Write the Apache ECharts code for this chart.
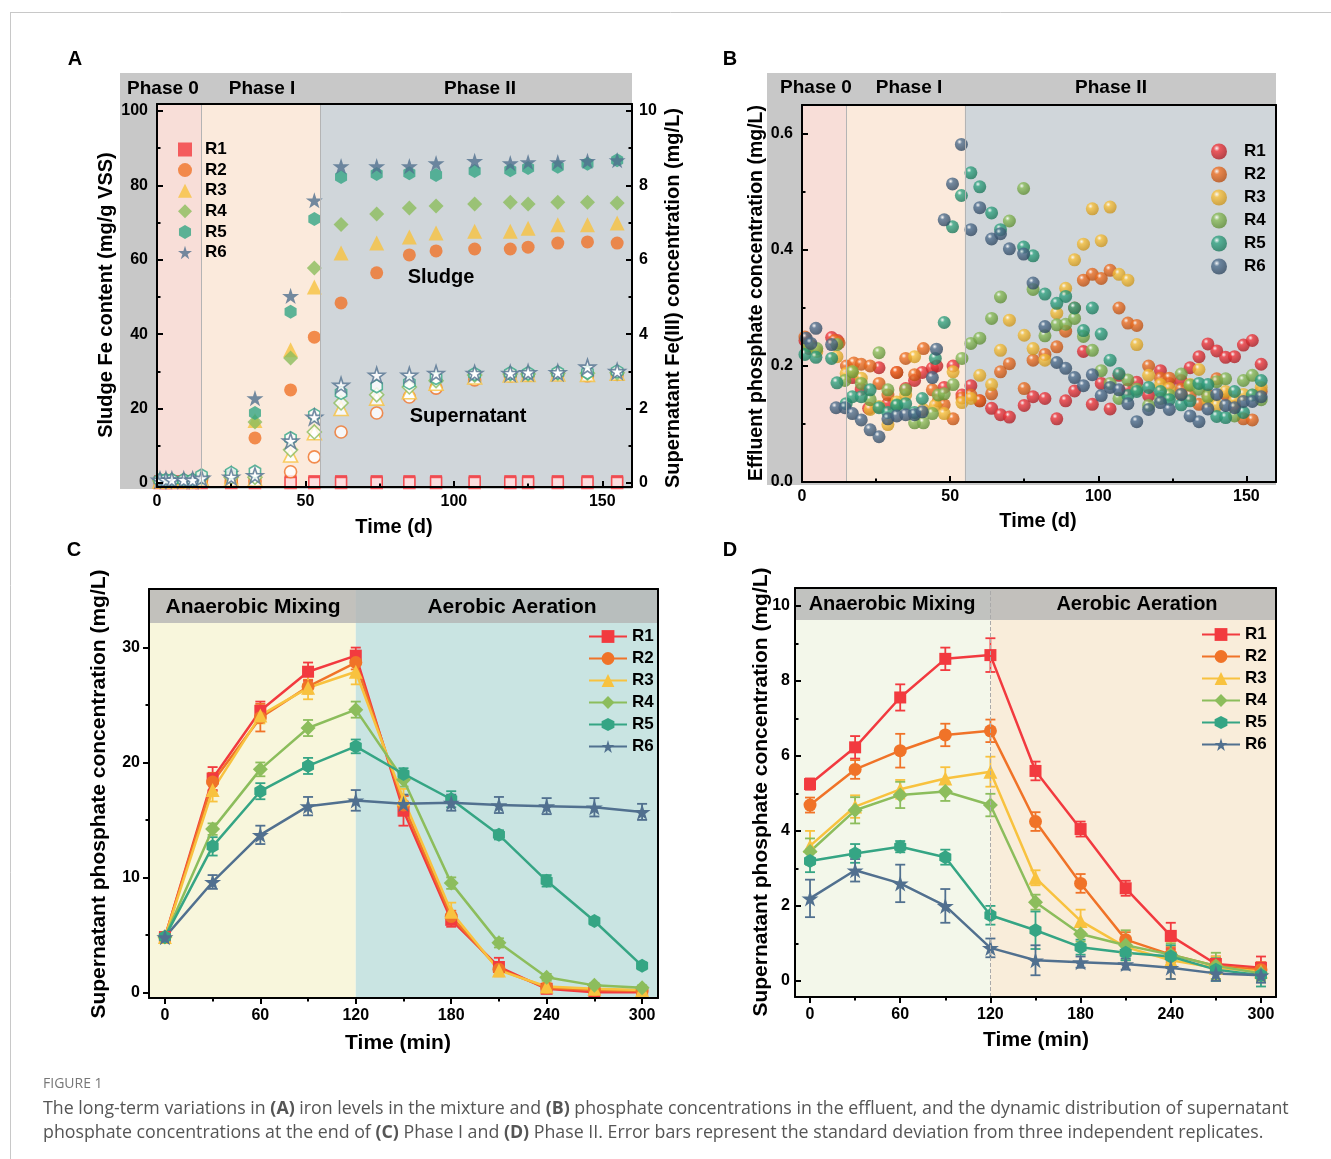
<!DOCTYPE html>
<html>
<head>
<meta charset="utf-8">
<script src="https://cdn.jsdelivr.net/npm/echarts@6/dist/echarts.min.js"></script>
<style>
  html, body { margin: 0; background: #fff; }
  #main { width: 1331px; height: 1159px; }
</style>
</head>
<body>
<div id="main"></div>
<script>
// ---- data ----
var names = ['R1', 'R2', 'R3', 'R4', 'R5', 'R6'];

// A: sludge Fe (mg/g VSS) and supernatant Fe(III) (mg/L) over time (d)
var dayA = [1, 3, 5, 9, 12, 15, 25, 33, 45, 53, 62, 74, 85, 94, 107, 119, 125, 135, 145, 155];
var sludgeR1 = [0.5, 0.5, 0.5, 0.5, 0.5, 0.5, 0.5, 0.5, 0.5, 0.5, 0.5, 0.5, 0.5, 0.5, 0.5, 0.5, 0.5, 0.5, 0.5, 0.5];
var sludgeR2 = [0.5, 0.5, 0.5, 0.5, 0.5, 0.8, 1.2, 12.1, 25.0, 39.2, 48.4, 56.5, 61.3, 62.4, 62.9, 62.9, 63.4, 64.5, 64.8, 64.5];
var sludgeR3 = [0.5, 0.5, 0.5, 0.5, 0.5, 1.0, 1.8, 16.8, 35.8, 52.7, 61.8, 64.5, 66.1, 67.2, 67.7, 67.7, 68.5, 69.4, 69.4, 69.9];
var sludgeR4 = [0.5, 0.5, 0.5, 0.5, 0.5, 1.1, 2.0, 16.4, 33.6, 57.8, 69.5, 72.3, 73.9, 74.5, 75.0, 75.5, 75.0, 75.5, 75.5, 75.3];
var sludgeR5 = [0.5, 0.5, 0.5, 0.5, 0.5, 1.3, 2.5, 18.8, 46.0, 71.0, 82.3, 83.1, 83.3, 82.8, 83.9, 84.1, 84.7, 85.0, 85.8, 86.8];
var sludgeR6 = [0.5, 0.5, 0.5, 0.5, 0.5, 1.5, 2.8, 22.8, 50.3, 76.0, 85.2, 85.2, 85.2, 86.0, 86.6, 86.0, 86.3, 86.3, 86.6, 86.8];
var supR1 = [0, 0, 0, 0, 0, 0, 0, 0, 0, 0, 0, 0, 0, 0, 0, 0, 0, 0, 0, 0];
var supR2 = [0.05, 0.05, 0.05, 0.05, 0.05, 0.08, 0.05, 0.05, 0.30, 0.70, 1.37, 1.88, 2.31, 2.55, 2.77, 2.88, 2.90, 2.92, 2.88, 2.92];
var supR3 = [0.05, 0.05, 0.05, 0.05, 0.05, 0.10, 0.10, 0.10, 0.75, 1.35, 2.00, 2.28, 2.45, 2.68, 2.85, 2.90, 2.92, 2.93, 2.92, 2.95];
var supR4 = [0.06, 0.06, 0.06, 0.06, 0.06, 0.15, 0.15, 0.15, 0.89, 1.37, 2.15, 2.37, 2.58, 2.75, 2.90, 2.93, 2.93, 2.95, 2.95, 2.96];
var supR5 = [0.08, 0.08, 0.08, 0.08, 0.08, 0.20, 0.27, 0.30, 1.20, 1.83, 2.42, 2.60, 2.69, 2.82, 2.93, 2.95, 2.95, 2.97, 2.97, 3.00];
var supR6 = [0.08, 0.08, 0.08, 0.08, 0.08, 0.13, 0.16, 0.20, 1.13, 1.77, 2.63, 2.90, 2.90, 2.95, 2.95, 2.95, 2.97, 2.97, 3.12, 3.00];

// B: effluent phosphate (mg/L), [day, value]
var effR1 = [[1, 0.244], [2.5, 0.23], [10, 0.249], [12, 0.244], [17, 0.18], [20, 0.16], [22.5, 0.127], [26, 0.197], [29, 0.135], [32, 0.189], [35, 0.161], [38, 0.175], [40.6, 0.189], [44, 0.196], [45.5, 0.2], [48, 0.163], [51, 0.2], [54, 0.15], [57, 0.166], [60, 0.14], [64, 0.127], [67, 0.116], [70, 0.112], [75, 0.132], [78, 0.147], [82, 0.144], [86, 0.109], [89, 0.14], [92, 0.157], [95, 0.225], [98, 0.134], [101, 0.17], [104, 0.126], [107, 0.184], [110, 0.16], [113, 0.172], [117, 0.149], [121, 0.192], [124, 0.17], [128, 0.175], [131, 0.197], [134, 0.216], [137, 0.238], [140, 0.226], [143, 0.215], [146, 0.216], [149, 0.236], [152, 0.244], [155, 0.203]];
var effR2 = [[1, 0.25], [3, 0.235], [11, 0.244], [12.5, 0.24], [15, 0.2], [17.5, 0.205], [20, 0.203], [23, 0.2], [26, 0.17], [29, 0.15], [32, 0.189], [35, 0.213], [38, 0.185], [41, 0.23], [44, 0.159], [46, 0.14], [48, 0.133], [51, 0.109], [54, 0.145], [57, 0.15], [60, 0.14], [64, 0.152], [67, 0.19], [70, 0.204], [75, 0.161], [78, 0.21], [82, 0.22], [86, 0.233], [89, 0.26], [92, 0.3], [95, 0.348], [98, 0.358], [101, 0.351], [104, 0.365], [107, 0.3], [110, 0.274], [113, 0.27], [117, 0.2], [121, 0.179], [124, 0.179], [128, 0.16], [131, 0.149], [134, 0.134], [137, 0.15], [140, 0.178], [143, 0.151], [146, 0.13], [149, 0.109], [152, 0.107], [155, 0.156]];
var effR3 = [[2.5, 0.237], [5, 0.225], [11.8, 0.216], [14.9, 0.187], [17, 0.19], [20, 0.179], [23, 0.125], [26, 0.13], [29, 0.099], [32, 0.138], [35, 0.15], [38, 0.216], [41, 0.125], [45, 0.132], [48, 0.118], [51, 0.19], [54, 0.137], [57, 0.144], [60, 0.184], [64, 0.168], [67, 0.227], [70, 0.279], [75, 0.253], [78, 0.23], [82, 0.21], [86, 0.291], [89, 0.334], [92, 0.383], [95, 0.41], [98, 0.471], [101, 0.416], [104, 0.474], [107, 0.358], [110, 0.348], [113, 0.237], [117, 0.184], [121, 0.168], [124, 0.161], [128, 0.15], [131, 0.168], [134, 0.194], [137, 0.14], [140, 0.132], [143, 0.156], [146, 0.14], [149, 0.151], [152, 0.15], [155, 0.163]];
var effR4 = [[2, 0.235], [5, 0.23], [11.8, 0.237], [14.5, 0.175], [17, 0.19], [20, 0.17], [23, 0.142], [26, 0.223], [29, 0.159], [32, 0.133], [35, 0.159], [38, 0.102], [41, 0.102], [44, 0.118], [46, 0.15], [48, 0.152], [51, 0.168], [54, 0.213], [57, 0.239], [60, 0.248], [64, 0.282], [67, 0.319], [70, 0.45], [74.8, 0.506], [78, 0.332], [82, 0.252], [86, 0.271], [89, 0.272], [92, 0.282], [95, 0.251], [98, 0.227], [101, 0.192], [104, 0.17], [107, 0.144], [110, 0.176], [113, 0.16], [117, 0.132], [121, 0.144], [124, 0.15], [128, 0.186], [131, 0.167], [134, 0.16], [137, 0.147], [140, 0.173], [143, 0.178], [146, 0.114], [149, 0.175], [152, 0.184], [155, 0.142]];
var effR5 = [[1, 0.22], [4.7, 0.215], [10, 0.213], [11.8, 0.171], [14.9, 0.135], [17, 0.147], [20, 0.147], [23, 0.159], [26, 0.128], [29, 0.12], [32, 0.132], [35, 0.135], [38, 0.12], [40.6, 0.144], [45, 0.213], [48, 0.275], [50.8, 0.44], [53.8, 0.494], [57, 0.533], [60, 0.509], [64, 0.464], [67, 0.435], [74.8, 0.405], [78, 0.39], [82, 0.324], [86, 0.308], [89, 0.32], [92, 0.3], [95, 0.261], [98, 0.3], [101, 0.255], [104, 0.21], [107, 0.187], [110, 0.149], [113, 0.156], [117, 0.163], [121, 0.156], [124, 0.142], [128, 0.133], [131, 0.14], [134, 0.17], [137, 0.168], [140, 0.113], [143, 0.111], [146, 0.156], [149, 0.12], [152, 0.15], [155, 0.175]];
var effR6 = [[1.4, 0.248], [3, 0.239], [4.7, 0.265], [10, 0.237], [11.5, 0.128], [14.5, 0.128], [17, 0.118], [20, 0.107], [23, 0.09], [26, 0.078], [29, 0.109], [32, 0.114], [35, 0.116], [38, 0.116], [40.6, 0.121], [44, 0.18], [45.4, 0.229], [48, 0.452], [50.8, 0.514], [53.8, 0.582], [57, 0.435], [60, 0.473], [64, 0.419], [67, 0.428], [70, 0.402], [74.8, 0.393], [78, 0.343], [82, 0.268], [86, 0.206], [89, 0.196], [92, 0.18], [95, 0.166], [98, 0.185], [101, 0.149], [104, 0.163], [107, 0.159], [110, 0.135], [113, 0.104], [117, 0.125], [121, 0.137], [124, 0.125], [128, 0.151], [131, 0.114], [134, 0.104], [137, 0.126], [140, 0.151], [143, 0.132], [146, 0.128], [149, 0.139], [152, 0.139], [155, 0.147]];

// C, D: supernatant phosphate (mg/L) in one cycle, mean and sd
var timeMin = [0, 30, 60, 90, 120, 150, 180, 210, 240, 270, 300];
var cR1 = [4.8, 18.6, 24.5, 27.9, 29.3, 15.8, 6.3, 2.2, 0.3, 0.0, 0.0];
var cR2 = [4.8, 18.3, 23.9, 26.6, 28.7, 16.3, 6.6, 2.0, 0.4, 0.2, 0.1];
var cR3 = [4.8, 17.6, 24.1, 26.5, 27.9, 16.8, 7.0, 1.9, 0.5, 0.3, 0.2];
var cR4 = [4.8, 14.2, 19.4, 23.0, 24.6, 18.5, 9.5, 4.3, 1.3, 0.6, 0.4];
var cR5 = [4.8, 12.7, 17.5, 19.7, 21.4, 19.0, 16.8, 13.7, 9.7, 6.2, 2.3];
var cR6 = [4.8, 9.6, 13.7, 16.2, 16.7, 16.4, 16.5, 16.3, 16.2, 16.1, 15.7];
var cErrR1 = [0.3, 1.0, 0.8, 0.8, 0.7, 1.3, 0.6, 0.8, 0.3, 0.2, 0.2];
var cErrR2 = [0.3, 0.8, 1.2, 0.6, 0.6, 0.8, 0.5, 0.5, 0.3, 0.2, 0.1];
var cErrR3 = [0.3, 1.0, 0.7, 1.0, 1.1, 0.9, 0.8, 0.5, 0.3, 0.2, 0.2];
var cErrR4 = [0.2, 0.5, 0.6, 0.7, 0.7, 0.6, 0.5, 0.4, 0.3, 0.2, 0.2];
var cErrR5 = [0.2, 0.8, 0.7, 0.7, 0.6, 0.5, 0.7, 0.4, 0.5, 0.3, 0.3];
var cErrR6 = [0.2, 0.6, 0.8, 0.8, 0.9, 0.8, 0.7, 0.7, 0.7, 0.8, 0.7];

var dR1 = [5.25, 6.23, 7.56, 8.59, 8.69, 5.6, 4.05, 2.47, 1.2, 0.45, 0.35];
var dR2 = [4.69, 5.64, 6.14, 6.56, 6.67, 4.25, 2.6, 1.1, 0.7, 0.4, 0.3];
var dR3 = [3.6, 4.65, 5.11, 5.4, 5.58, 2.75, 1.6, 0.9, 0.55, 0.35, 0.25];
var dR4 = [3.45, 4.55, 4.96, 5.05, 4.69, 2.1, 1.25, 0.95, 0.7, 0.4, 0.2];
var dR5 = [3.2, 3.4, 3.58, 3.3, 1.75, 1.35, 0.9, 0.75, 0.65, 0.3, 0.15];
var dR6 = [2.2, 2.95, 2.6, 2.0, 0.88, 0.55, 0.5, 0.45, 0.35, 0.2, 0.15];
var dErrR1 = [0.15, 0.3, 0.35, 0.3, 0.45, 0.25, 0.2, 0.2, 0.35, 0.2, 0.3];
var dErrR2 = [0.2, 0.25, 0.45, 0.3, 0.3, 0.25, 0.25, 0.2, 0.2, 0.2, 0.2];
var dErrR3 = [0.4, 0.3, 0.25, 0.3, 0.4, 0.2, 0.3, 0.2, 0.5, 0.3, 0.2];
var dErrR4 = [0.35, 0.35, 0.35, 0.25, 0.3, 0.2, 0.2, 0.4, 0.3, 0.35, 0.2];
var dErrR5 = [0.3, 0.25, 0.15, 0.2, 0.25, 0.5, 0.2, 0.2, 0.3, 0.3, 0.3];
var dErrR6 = [0.5, 0.3, 0.5, 0.45, 0.25, 0.4, 0.15, 0.15, 0.3, 0.2, 0.2];

// phase limits (d) and stage limit (min)
var phaseA = [0, 15, 55, 160];
var stageSplit = 120;

// ---- styles ----
var FONT = '"Liberation Sans", Arial, sans-serif';
var colors = ['#f23a3f', '#f07328', '#f8c23f', '#8cbd5c', '#35a584', '#51708f'];
var darks = ['#a81c22', '#b44c10', '#c8921c', '#5c8a33', '#1b7559', '#2f465e'];
var HEX = 'path://M50,0 L93,25 L93,75 L50,100 L7,75 L7,25 Z';
var STAR = 'path://M50,0 L61,35 L98,35 L68,57 L79,91 L50,70 L21,91 L32,57 L2,35 L39,35 Z';
var shapes = ['rect', 'circle', 'triangle', 'diamond', HEX, STAR];
var sizesA = [12, 13, 15, 15, 14, 17];
var sizesC = [12, 13, 14, 15, 14, 17];

var chart = echarts.init(document.getElementById('main'));

var xAxes = [], yAxes = [];
// 轴：主刻度和标签一条，次刻度另加一条不带线的轴
function axis(list, o) {
    var idx = list.length;
    list.push({
        type: 'value', gridIndex: o.grid, position: o.pos, min: o.min, max: o.max, z: 10,
        axisLine: { show: true, onZero: false, lineStyle: { color: '#000', width: 2 } },
        axisTick: { show: !!o.ticks, inside: !!o.inside, length: 6, customValues: o.ticks, lineStyle: { color: '#000', width: 2 } },
        axisLabel: {
            show: !!o.labels, customValues: o.labels, margin: o.margin || 8, color: '#000',
            fontFamily: FONT, fontWeight: 'bold', fontSize: 16, formatter: o.fmt
        },
        splitLine: { show: false }
    });
    if (o.minor) {
        list.push({
            type: 'value', gridIndex: o.grid, position: o.pos, min: o.min, max: o.max, z: 10,
            axisLine: { show: false, onZero: false }, axisLabel: { show: false }, splitLine: { show: false },
            axisTick: { show: true, inside: !!o.inside, length: 3.5, customValues: o.minor, lineStyle: { color: '#000', width: 2 } }
        });
    }
    return idx;
}

// A
var xA = axis(xAxes, { grid: 0, pos: 'bottom', min: 0, max: 160, labels: [0, 50, 100, 150], ticks: [0, 50, 100, 150], minor: [25, 75, 125], inside: true, margin: 7 });
axis(xAxes, { grid: 0, pos: 'top', min: 0, max: 160 });
var yAL = axis(yAxes, { grid: 0, pos: 'left', min: -1.1, max: 101.9, labels: [0, 20, 40, 60, 80, 100], ticks: [0, 20, 40, 60, 80, 100], minor: [10, 30, 50, 70, 90], inside: true, margin: 9 });
var yAR = axis(yAxes, { grid: 0, pos: 'right', min: -0.11, max: 10.19, labels: [0, 2, 4, 6, 8, 10], ticks: [0, 2, 4, 6, 8, 10], minor: [1, 3, 5, 7, 9], inside: true, margin: 7 });
// B
var xB = axis(xAxes, { grid: 1, pos: 'bottom', min: 0, max: 160, labels: [0, 50, 100, 150], ticks: [0, 50, 100, 150], minor: [25, 75, 125], inside: true, margin: 7 });
axis(xAxes, { grid: 1, pos: 'top', min: 0, max: 160 });
var yB = axis(yAxes, { grid: 1, pos: 'left', min: 0, max: 0.65, labels: [0, 0.2, 0.4, 0.6], ticks: [0, 0.2, 0.4, 0.6], minor: [0.1, 0.3, 0.5], inside: true, margin: 9, fmt: function (v) { return v.toFixed(1); } });
axis(yAxes, { grid: 1, pos: 'right', min: 0, max: 0.65 });
// C
var xC = axis(xAxes, { grid: 2, pos: 'bottom', min: -10, max: 310, labels: [0, 60, 120, 180, 240, 300], ticks: [0, 60, 120, 180, 240, 300], minor: [30, 90, 150, 210, 270], margin: 10 });
axis(xAxes, { grid: 2, pos: 'top', min: -10, max: 310 });
var yC = axis(yAxes, { grid: 2, pos: 'left', min: -0.5, max: 35.1, labels: [0, 10, 20, 30], ticks: [0, 10, 20, 30], minor: [5, 15, 25], margin: 9 });
axis(yAxes, { grid: 2, pos: 'right', min: -0.5, max: 35.1 });
// D
var xD = axis(xAxes, { grid: 3, pos: 'bottom', min: -10, max: 310, labels: [0, 60, 120, 180, 240, 300], ticks: [0, 60, 120, 180, 240, 300], minor: [30, 90, 150, 210, 270], margin: 10 });
axis(xAxes, { grid: 3, pos: 'top', min: -10, max: 310 });
var yD = axis(yAxes, { grid: 3, pos: 'left', min: -0.43, max: 10.48, labels: [0, 2, 4, 6, 8, 10], ticks: [0, 2, 4, 6, 8, 10], minor: [1, 3, 5, 7, 9], inside: true, margin: 5 });
axis(yAxes, { grid: 3, pos: 'right', min: -0.43, max: 10.48 });

function zip(xs, ys) {
    return xs.map(function (x, k) { return [x, ys[k]]; });
}

var series = [];
var sludge = [sludgeR1, sludgeR2, sludgeR3, sludgeR4, sludgeR5, sludgeR6];
var sup = [supR1, supR2, supR3, supR4, supR5, supR6];
var eff = [effR1, effR2, effR3, effR4, effR5, effR6];
var cVals = [cR1, cR2, cR3, cR4, cR5, cR6];
var cErrs = [cErrR1, cErrR2, cErrR3, cErrR4, cErrR5, cErrR6];
var dVals = [dR1, dR2, dR3, dR4, dR5, dR6];
var dErrs = [dErrR1, dErrR2, dErrR3, dErrR4, dErrR5, dErrR6];

// 阶段背景
function phaseAreas(xs, fills) {
    var out = [];
    for (var k = 0; k < fills.length; k++) {
        out.push([{ xAxis: xs[k], itemStyle: { color: fills[k] } }, { xAxis: xs[k + 1] }]);
    }
    return out;
}
function dividers(xs, color, type) {
    return {
        silent: true, symbol: ['none', 'none'], label: { show: false },
        lineStyle: { color: color, width: 1, type: type || 'solid' },
        data: xs.map(function (x) { return { xAxis: x }; })
    };
}

// A: filled = sludge, hollow = supernatant
names.forEach(function (n, i) {
    var s = {
        type: 'scatter', name: 'a-' + n, xAxisIndex: xA, yAxisIndex: yAL,
        symbol: shapes[i], symbolSize: sizesA[i], symbolKeepAspect: true,
        itemStyle: { color: colors[i] }, data: zip(dayA, sludge[i])
    };
    if (i === 0) {
        s.markArea = { silent: true, data: phaseAreas(phaseA, ['#f8ded8', '#fbeadc', '#d0d6da']) };
        s.markLine = dividers([phaseA[1], phaseA[2]], '#b4b4b4');
    }
    series.push(s);
});
names.forEach(function (n, i) {
    series.push({
        type: 'scatter', name: 'as-' + n, xAxisIndex: xA, yAxisIndex: yAR,
        symbol: shapes[i], symbolSize: sizesA[i] - 1, symbolKeepAspect: true,
        itemStyle: { color: '#fff', borderColor: colors[i], borderWidth: 1.6 }, data: zip(dayA, sup[i])
    });
});

// B: shaded balls
names.forEach(function (n, i) {
    var s = {
        type: 'scatter', name: 'b-' + n, xAxisIndex: xB, yAxisIndex: yB,
        symbol: 'circle', symbolSize: 13,
        itemStyle: {
            color: new echarts.graphic.RadialGradient(0.36, 0.3, 0.75, [
                { offset: 0, color: '#ffffff' }, { offset: 0.25, color: colors[i] }, { offset: 1, color: darks[i] }
            ])
        },
        data: eff[i]
    };
    if (i === 0) {
        s.markArea = { silent: true, data: phaseAreas(phaseA, ['#f8ded8', '#fbeadc', '#d0d6da']) };
        s.markLine = dividers([phaseA[1], phaseA[2]], '#b4b4b4');
    }
    series.push(s);
});

// 误差棒
function errorBars(xi, yi, vals, errs, color) {
    return {
        type: 'custom', xAxisIndex: xi, yAxisIndex: yi, silent: true, z: 3,
        data: timeMin.map(function (t, k) { return [t, vals[k], errs[k]]; }),
        encode: { x: 0, y: 1 },
        renderItem: function (params, api) {
            var lo = api.coord([api.value(0), api.value(1) - api.value(2)]);
            var hi = api.coord([api.value(0), api.value(1) + api.value(2)]);
            var w = 5, st = { stroke: color, lineWidth: 1.8 };
            return {
                type: 'group', children: [
                    { type: 'line', shape: { x1: lo[0], y1: lo[1], x2: hi[0], y2: hi[1] }, style: st },
                    { type: 'line', shape: { x1: lo[0] - w, y1: lo[1], x2: lo[0] + w, y2: lo[1] }, style: st },
                    { type: 'line', shape: { x1: hi[0] - w, y1: hi[1], x2: hi[0] + w, y2: hi[1] }, style: st }
                ]
            };
        }
    };
}

function cyclePanel(prefix, xi, yi, vals, errs, fills, lineType) {
    names.forEach(function (n, i) {
        var s = {
            type: 'line', name: prefix + n, xAxisIndex: xi, yAxisIndex: yi,
            symbol: shapes[i], symbolSize: sizesC[i], symbolKeepAspect: true, showSymbol: true,
            itemStyle: { color: colors[i] }, lineStyle: { color: colors[i], width: 2.5 },
            data: zip(timeMin, vals[i])
        };
        if (i === 0) {
            s.markArea = { silent: true, data: phaseAreas([-10, stageSplit, 310], fills) };
            if (lineType) s.markLine = dividers([stageSplit], '#aaaaaa', lineType);
        }
        series.push(s);
        series.push(errorBars(xi, yi, vals[i], errs[i], colors[i]));
    });
}
cyclePanel('c-', xC, yC, cVals, cErrs, ['#f8f6dc', '#c9e4e2']);
cyclePanel('d-', xD, yD, dVals, dErrs, ['#f3f7ea', '#f9edda'], 'dashed');

function legend(prefix, o, pad) {
    return Object.assign({
        data: names.map(function (n) { return prefix + n; }),
        orient: 'vertical', selectedMode: false, padding: 0,
        formatter: function (name) { return name.slice(prefix.length); },
        textStyle: { color: '#000', fontFamily: FONT, fontWeight: 'bold', fontSize: 17, padding: [0, 0, 0, pad || 0] }
    }, o);
}

function txt(x, y, s, size, extra) {
    return Object.assign({
        type: 'text', x: x, y: y, z: 20,
        style: { text: s, fill: '#000', font: 'bold ' + size + 'px ' + FONT, align: 'center', verticalAlign: 'middle' }
    }, extra || {});
}
function vtxt(x, y, s, size) {
    return txt(x, y, s, size, { rotation: Math.PI / 2 });
}

var graphics = [
    // page frame
    { type: 'line', shape: { x1: 10, y1: 12.5, x2: 1331, y2: 12.5 }, style: { stroke: '#c8c8c8', lineWidth: 1 } },
    { type: 'line', shape: { x1: 10.5, y1: 12, x2: 10.5, y2: 1159 }, style: { stroke: '#c8c8c8', lineWidth: 1 } },
    // gray header boxes A, B
    { type: 'rect', z: 0, shape: { x: 120, y: 73, width: 512, height: 416 }, style: { fill: '#c8c8c8' } },
    { type: 'rect', z: 0, shape: { x: 767, y: 73, width: 509, height: 412 }, style: { fill: '#c8c8c8' } },
    // header strips C, D
    { type: 'rect', z: 5, shape: { x: 150, y: 590, width: 507, height: 33 }, style: { fill: 'rgba(180,180,180,0.8)' } },
    { type: 'rect', z: 5, shape: { x: 796, y: 589, width: 479, height: 31 }, style: { fill: 'rgba(180,180,180,0.8)' } },
    // panel letters
    txt(75, 59, 'A', 20), txt(730, 59, 'B', 20), txt(74, 550, 'C', 20), txt(730, 550, 'D', 20),
    // headers
    txt(163, 89, 'Phase 0', 19), txt(262, 89, 'Phase I', 19), txt(480, 89, 'Phase II', 19),
    txt(816, 88, 'Phase 0', 19), txt(909, 88, 'Phase I', 19), txt(1111, 88, 'Phase II', 19),
    txt(253, 607, 'Anaerobic Mixing', 21), txt(512, 607, 'Aerobic Aeration', 21),
    txt(892, 604, 'Anaerobic Mixing', 20), txt(1137, 604, 'Aerobic Aeration', 20),
    // in-plot labels
    txt(441, 277, 'Sludge', 20), txt(468, 416, 'Supernatant', 20),
    // axis titles
    vtxt(106, 295, 'Sludge Fe content (mg/g VSS)', 20),
    vtxt(673, 298, 'Supernatant Fe(III) concentration (mg/L)', 20),
    txt(394, 527, 'Time (d)', 20),
    vtxt(757, 293, 'Effluent phosphate concentration (mg/L)', 19.5),
    txt(1038, 521, 'Time (d)', 20),
    vtxt(99, 794, 'Supernatant phosphate concentration (mg/L)', 21),
    txt(398, 1043, 'Time (min)', 21),
    vtxt(761, 792, 'Supernatant phosphate concentration (mg/L)', 21),
    txt(1036, 1040, 'Time (min)', 21),
    // caption
    {
        type: 'text', x: 43, y: 1077, z: 20,
        style: { text: 'FIGURE 1', fill: '#777', font: '14px "Open Sans", sans-serif', verticalAlign: 'top' }
    },
    {
        type: 'text', x: 43, y: 1097, z: 20,
        style: {
            text: '{n|The long-term variations in }{b|(A)}{n| iron levels in the mixture and }{b|(B)}{n| phosphate concentrations in the effluent, and the dynamic distribution of supernatant}\n' +
                '{n|phosphate concentrations at the end of }{b|(C)}{n| Phase I and }{b|(D)}{n| Phase II. Error bars represent the standard deviation from three independent replicates.}',
            verticalAlign: 'top',
            rich: {
                n: { fontFamily: '"Open Sans", sans-serif', fontSize: 17.8, fill: '#555', lineHeight: 24 },
                b: { fontFamily: '"Open Sans", sans-serif', fontSize: 17.8, fontWeight: 'bold', fill: '#555', lineHeight: 24 }
            }
        }
    }
];

var option = {
    animation: false,
    backgroundColor: '#fff',
    grid: [
        { left: 157, top: 104, width: 475, height: 383 },
        { left: 802, top: 105, width: 474, height: 377 },
        { left: 149, top: 589, width: 509, height: 409 },
        { left: 795, top: 588, width: 481, height: 409 }
    ],
    xAxis: xAxes,
    yAxis: yAxes,
    legend: [
        legend('a-', { left: 178, top: 141, itemWidth: 14, itemHeight: 14, itemGap: 3.6 }, 8),
        legend('b-', { left: 1211, top: 143, itemWidth: 30, itemHeight: 16, itemGap: 6 }, 5),
        legend('c-', { left: 588, top: 628, itemWidth: 38, itemHeight: 16, itemGap: 5 }),
        legend('d-', { left: 1201, top: 626, itemWidth: 38, itemHeight: 16, itemGap: 5 })
    ],
    graphic: graphics,
    series: series
};
chart.setOption(option);
</script>
</body>
</html>
